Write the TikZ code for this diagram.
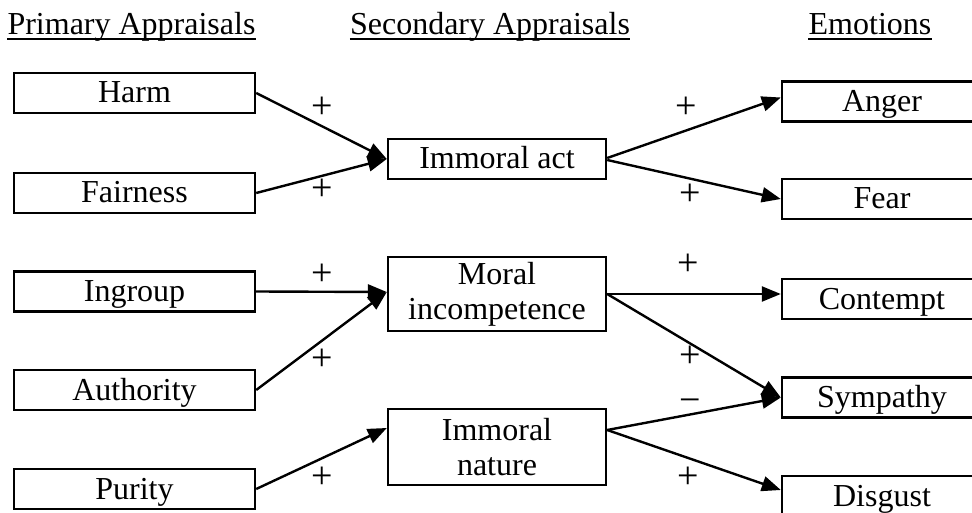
\documentclass[tikz,border=0pt]{standalone}
\usepackage{fontspec}
\setmainfont{Liberation Serif}
\usetikzlibrary{arrows.meta}

\tikzset{
  lbl/.style={font=\fontsize{32}{35}\selectfont, inner sep=0pt},
  title/.style={lbl, anchor=base},
  box/.style={draw, line width=2.4pt, inner sep=0pt, minimum height=40pt,
              font=\fontsize{32}{35}\selectfont, align=center},
  onebox/.style={box, text height=23pt, text depth=3pt},
  leftbox/.style={onebox, minimum width=241pt},
  midbox/.style={box, minimum width=218pt},
  rightbox/.style={onebox, minimum width=200pt},
  link/.style={line width=2.4pt, -{Triangle[length=19pt,width=15pt]}},
  sign/.style={font=\fontsize{38}{40}\selectfont, inner sep=0pt}
}

\begin{document}
\begin{tikzpicture}[x=1pt, y=-1pt]
  \useasboundingbox (0,0) rectangle (972,513);
  \clip (0,0) rectangle (972,513);

  % column headings
  \node[title] (h1) at (131.5,35) {Primary Appraisals};
  \node[title] (h2) at (490,35) {Secondary Appraisals};
  \node[title] (h3) at (870,35) {Emotions};
  \foreach \h in {h1,h2,h3}
    \draw[line width=1.8pt] ([yshift=-4pt]\h.base west) -- ([yshift=-4pt]\h.base east);

  % primary appraisals
  \node[leftbox] (harm)  at (134.5,93)  {Harm};
  \node[leftbox] (fair)  at (134.5,193) {Fairness};
  \node[leftbox] (ingr)  at (134.5,291.5) {Ingroup};
  \node[leftbox] (auth)  at (134.5,390) {Authority};
  \node[leftbox] (pur)   at (134.5,489) {Purity};

  % secondary appraisals
  \node[midbox, text height=23pt, text depth=3pt] (act) at (497,159) {Immoral act};
  \node[midbox, minimum height=74pt] (inc) at (497,294) {Moral\\incompetence};
  \node[midbox, minimum height=76pt] (nat) at (497,447) {Immoral\\nature};

  % emotions
  \node[rightbox] (ang) at (882,101.5) {Anger};
  \node[rightbox] (fea) at (882,199)   {Fear};
  \node[rightbox] (con) at (882,299)   {Contempt};
  \node[rightbox] (sym) at (882,397.5) {Sympathy};
  \node[rightbox] (dis) at (882,496)   {Disgust};

  % primary -> secondary
  \draw[link] (harm.east) -- (act.west);
  \draw[link] (fair.east) -- (act.west);
  \draw[link] (ingr.east) -- ([yshift=2pt]inc.west);
  \draw[link] (auth.east) -- ([yshift=2pt]inc.west);
  \draw[link] (pur.east)  -- ([yshift=19pt]nat.west);

  % secondary -> emotions
  \draw[link] ([yshift=1pt]act.east) -- ([yshift=4pt]ang.west);
  \draw[link] ([yshift=-1pt]act.east) -- (fea.west);
  \draw[link] (inc.east) -- ([yshift=5pt]con.west);
  \draw[link] (inc.east) -- (sym.west);
  \draw[link] ([yshift=17pt]nat.east) -- (sym.west);
  \draw[link] ([yshift=17pt]nat.east) -- ([yshift=6pt]dis.west);

  % signs
  \node[sign] (s1)  at (322,108) {+};
  \node[sign] (s2)  at (322,190) {+};
  \node[sign] (s3)  at (322,275) {+};
  \node[sign] (s4)  at (322,360) {+};
  \node[sign] (s5)  at (322,478) {+};
  \node[sign] (s6)  at (686,108) {+};
  \node[sign] (s7)  at (690,195) {+};
  \node[sign] (s8)  at (688,265) {+};
  \node[sign] (s9)  at (690,357) {+};
  \node[sign] (s10) at (690,406) {−};
  \node[sign] (s11) at (688,478) {+};
\end{tikzpicture}
\end{document}
